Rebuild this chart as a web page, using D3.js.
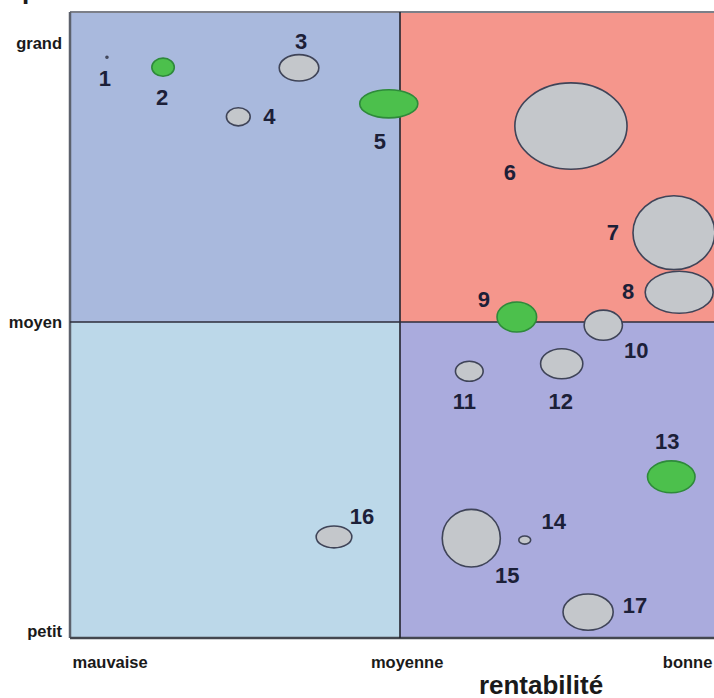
<!DOCTYPE html>
<html>
<head>
<meta charset="utf-8">
<script src="https://cdn.jsdelivr.net/npm/d3@7"></script>
<style>
  html, body { margin: 0; padding: 0; background: #ffffff; }
  svg { display: block; }
  text { font-family: "Liberation Sans", Arial, sans-serif; font-weight: bold; }
</style>
</head>
<body>
<script>
// Portefeuille : rentabilité (x) contre potentiel de marché (y), 0–100
const ids        = ["1","2","3","4","5","6","7","8","9","10","11","12","13","14","15","16","17"];
const rentabilite = [5.6, 14.1, 34.7, 25.5, 48.3, 75.9, 91.5, 92.3, 67.7, 80.8, 60.5, 74.5, 91.1, 68.9, 60.8, 40.0, 78.5];
const potentiel   = [92.7, 91.1, 91.0, 83.1, 85.2, 81.6, 64.4, 54.8, 50.8, 49.5, 42.2, 43.4, 25.5, 15.5, 15.8, 16.0, 4.1];
// demi-axes des bulles, en unités de chaque axe
const largeur    = [0.15, 1.7, 3.0, 1.8, 4.4, 8.5, 6.2, 5.15, 3.0, 2.9, 2.1, 3.2, 3.6, 0.9, 4.4, 2.7, 3.8];
const hauteur    = [0.16, 1.45, 2.1, 1.45, 2.25, 6.9, 5.9, 3.35, 2.4, 2.4, 1.6, 2.4, 2.55, 0.65, 4.6, 1.75, 2.9];
// produits mis en avant (vert)
const vedette    = [false, true, false, false, true, false, false, false, true, false, false, false, true, false, false, false, false];

const xTickValues = [6, 51, 93.5];
const xTickLabels = ["mauvaise", "moyenne", "bonne"];
const yTickValues = [1, 50, 95];
const yTickLabels = ["petit", "moyen", "grand"];

// placement des numéros autour des bulles (px)
const labelOffsets = [[-2,21],[-1,30],[2,-27],[31,-1],[-9,37],[-61,46],[-61,-1],[-51,-1],[-33,-18],[33,25],[-5,30],[-1,37],[-4,-36],[29,-19],[36,37],[28,-21],[47,-7]];

const W = 714, H = 698;
const svg = d3.select("body").append("svg").attr("width", W).attr("height", H);

const x = d3.scaleLinear().domain([0, 50, 100]).range([70, 400, 730]);
const y = d3.scaleLinear().domain([0, 50, 100]).range([638, 322, 12]);
const rx = d3.scaleLinear().domain([0, 100]).range([0, 660]);
const ry = d3.scaleLinear().domain([0, 100]).range([0, 626]);

// quadrants
const quadrants = [
  {x0: 0,  x1: 50,  y0: 50, y1: 100, fill: "#a9b9dd"},
  {x0: 50, x1: 100, y0: 50, y1: 100, fill: "#f5968c"},
  {x0: 0,  x1: 50,  y0: 0,  y1: 50,  fill: "#bcd8e9"},
  {x0: 50, x1: 100, y0: 0,  y1: 50,  fill: "#aaabdd"}
];
svg.append("g").selectAll("rect").data(quadrants).join("rect")
  .attr("x", d => x(d.x0)).attr("y", d => y(d.y1))
  .attr("width", d => x(d.x1) - x(d.x0)).attr("height", d => y(d.y0) - y(d.y1))
  .attr("fill", d => d.fill);

// cadre et séparations
const g = svg.append("g");
g.append("line").attr("x1", x(0)).attr("x2", x(100)).attr("y1", y(100)).attr("y2", y(100))
  .attr("stroke", "#7c7f88").attr("stroke-width", 2);
g.append("line").attr("x1", x(0)).attr("x2", x(0)).attr("y1", y(100)).attr("y2", y(0))
  .attr("stroke", "#5c616c").attr("stroke-width", 2.5);
g.append("line").attr("x1", x(0)).attr("x2", x(100)).attr("y1", y(0)).attr("y2", y(0))
  .attr("stroke", "#44474f").attr("stroke-width", 2.5);
g.append("line").attr("x1", x(50)).attr("x2", x(50)).attr("y1", y(100)).attr("y2", y(0))
  .attr("stroke", "#23232e").attr("stroke-width", 1.6);
g.append("line").attr("x1", x(0)).attr("x2", x(100)).attr("y1", y(50)).attr("y2", y(50))
  .attr("stroke", "#2c2d3a").attr("stroke-width", 1.6);

// axes
const yAxis = svg.append("g").attr("transform", `translate(${x(0)},0)`)
  .call(d3.axisLeft(y).tickValues(yTickValues).tickSize(0).tickPadding(8)
        .tickFormat((d, i) => yTickLabels[i]));
const xAxis = svg.append("g").attr("transform", `translate(0,${y(0)})`)
  .call(d3.axisBottom(x).tickValues(xTickValues).tickSize(0).tickPadding(18)
        .tickFormat((d, i) => xTickLabels[i]));
[xAxis, yAxis].forEach(a => {
  a.select(".domain").remove();
  a.selectAll("text").attr("font-size", 16.5).attr("fill", "#1a1a1a")
    .attr("font-family", "'Liberation Sans', Arial, sans-serif").attr("font-weight", "bold");
});

// titres d'axes
svg.append("text").attr("x", 541).attr("y", 694).attr("text-anchor", "middle")
  .attr("font-size", 26).attr("fill", "#1a1a1a").text("rentabilité");
svg.append("text").attr("x", 22).attr("y", -1).attr("text-anchor", "start")
  .attr("font-size", 26).attr("fill", "#1a1a1a").text("potentiel de marché");

// bulles
const points = ids.map((id, i) => ({
  id, xv: rentabilite[i], yv: potentiel[i], w: largeur[i], h: hauteur[i], v: vedette[i], off: labelOffsets[i]
}));
svg.append("g").selectAll("ellipse").data(points).join("ellipse")
  .attr("cx", d => x(d.xv)).attr("cy", d => y(d.yv))
  .attr("rx", d => rx(d.w)).attr("ry", d => ry(d.h))
  .attr("fill", d => d.v ? "#4cc04c" : "#c4c7cb")
  .attr("stroke", d => d.v ? "#2e8a3a" : "#3f4458")
  .attr("stroke-width", 1.6);

// numéros
svg.append("g").selectAll("text").data(points).join("text")
  .attr("x", d => x(d.xv) + d.off[0]).attr("y", d => y(d.yv) + d.off[1])
  .attr("dy", "0.36em").attr("text-anchor", "middle")
  .attr("font-size", 22).attr("fill", "#1c2038")
  .text(d => d.id);
</script>
</body>
</html>
